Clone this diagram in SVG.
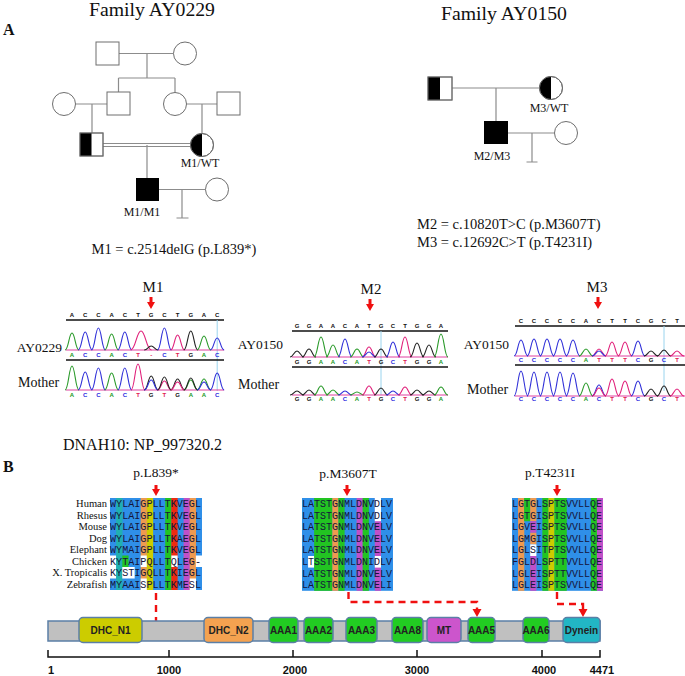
<svg xmlns="http://www.w3.org/2000/svg" width="685" height="676" viewBox="0 0 685 676">
<style>
.sf{font-family:"Liberation Serif","Times New Roman",serif;fill:#111}
.ped{stroke:#8c8c8c;stroke-width:1.2;fill:none}
.ind{fill:#fff;stroke:#6e6e6e;stroke-width:1}
.out{fill:none;stroke:#6e6e6e;stroke-width:1}
.blk{fill:#000}
.a,.c,.g,.t{fill:none;stroke-width:1.1}
.a{stroke:#2a9a2a}.c{stroke:#3030d8}.g{stroke:#222}.t{stroke:#e0207a}
.la{fill:#1a9a1a}.lc{fill:#2828e0}.lg{fill:#111}.lt{fill:#e02050}
.bs{font-family:"Liberation Sans",Arial,sans-serif;font-size:6px;font-weight:bold;text-anchor:middle;fill:#111}
.seq{stroke:#111;stroke-width:1.5}
.pink{stroke:#e040a0;stroke-width:1}
.guide{stroke:#9ad4ee;stroke-width:1}
.red{fill:#f01010}
.dash{stroke:#f01010;stroke-width:2.4;fill:none;stroke-dasharray:7 5}
.aln{font-family:"Liberation Mono","Courier New",monospace;font-size:10px;fill:#15153a}
.sp{font-family:"Liberation Serif","Times New Roman",serif;font-size:10.5px;fill:#111;text-anchor:end}
.B{fill:#2f8fe8}.Y{fill:#20b0b0}.G{fill:#ee9a50}.P{fill:#cccc00}.N{fill:#22c422}.K{fill:#ee2a10}.E{fill:#c050c8}.W{fill:#fff}
.dom{stroke:#5b7fa6;stroke-width:1.5}
.dl{font-family:"Liberation Sans",Arial,sans-serif;font-size:10px;font-weight:bold;fill:#222;text-anchor:middle}
.num{font-family:"Liberation Sans",Arial,sans-serif;font-size:11px;font-weight:bold;fill:#111;text-anchor:middle}
</style>
<defs>
<path id="pk" vector-effect="non-scaling-stroke" d="M-7,0 C-3.5,0 -3,-1 0,-1 C3,-1 3.5,0 7,0"/>
</defs>
<rect width="685" height="676" fill="#fff"/>

<!-- Panel labels and titles -->
<text class="sf" x="3" y="35" font-size="16" font-weight="bold">A</text>
<text class="sf" x="3" y="472" font-size="16" font-weight="bold">B</text>
<text class="sf" x="152" y="16" font-size="18" text-anchor="middle" textLength="126" lengthAdjust="spacingAndGlyphs">Family AY0229</text>
<text class="sf" x="504" y="20" font-size="18" text-anchor="middle" textLength="126" lengthAdjust="spacingAndGlyphs">Family AY0150</text>
<text class="sf" x="174" y="254" font-size="14.5" text-anchor="middle">M1 = c.2514delG (p.L839*)</text>
<text class="sf" x="417" y="229" font-size="14.5">M2 = c.10820T&gt;C (p.M3607T)</text>
<text class="sf" x="417" y="247" font-size="14.5">M3 = c.12692C&gt;T (p.T4231I)</text>

<!-- Pedigree connectors -->
<g id="pedigree-connectors" class="ped">
<path d="M119,53.5 H173.5 M147,53.5 V78 M118.5,78 H175 M118.5,78 V92 M175,78 V92.5"/>
<path d="M75.5,104 H107 M92,104 V133 M186.5,104 H217 M202,104 V133.5"/>
<path d="M103,143.5 H190.5 M103,146.5 H190.5 M147,145 V178"/>
<path d="M159,189.5 H205.5 M182,189.5 V218 M176.5,218 H188.5"/>
<path d="M452,88 H539.5 M496,88 V121"/>
<path d="M508,133 H554.5 M532,133 V162 M526.5,162 H537.5"/>
</g>

<!-- Family AY0229 -->
<g id="ay0229-I1"><rect class="ind" x="96" y="42" width="23" height="23"/></g>
<g id="ay0229-I2"><circle class="ind" cx="185" cy="53.5" r="11.5"/></g>
<g id="ay0229-II1"><circle class="ind" cx="64" cy="104" r="11.5"/></g>
<g id="ay0229-II2"><rect class="ind" x="107" y="92" width="23" height="23"/></g>
<g id="ay0229-II3"><circle class="ind" cx="175" cy="104" r="11.5"/></g>
<g id="ay0229-II4"><rect class="ind" x="217" y="92" width="23" height="23"/></g>
<g id="ay0229-III1"><rect class="ind" x="80" y="133" width="23" height="23"/><rect class="blk" x="80" y="133" width="11.5" height="23"/><rect class="out" x="80" y="133" width="23" height="23"/></g>
<g id="ay0229-III2"><circle class="ind" cx="202" cy="145" r="11.5"/><path class="blk" d="M202,133.5 A11.5,11.5 0 0 0 202,156.5 Z"/><circle class="out" cx="202" cy="145" r="11.5"/>
<text class="sf" x="200" y="167" font-size="12" text-anchor="middle">M1/WT</text></g>
<g id="ay0229-IV1"><rect class="blk" x="136" y="178" width="23" height="23"/>
<text class="sf" x="142" y="216" font-size="12" text-anchor="middle">M1/M1</text></g>
<g id="ay0229-IV2"><circle class="ind" cx="217" cy="189.5" r="11.5"/></g>

<!-- Family AY0150 -->
<g id="ay0150-I1"><rect class="ind" x="428" y="77" width="24" height="23"/><rect class="blk" x="428" y="77" width="12" height="23"/><rect class="out" x="428" y="77" width="24" height="23"/></g>
<g id="ay0150-I2"><circle class="ind" cx="551" cy="88" r="11.5"/><path class="blk" d="M551,76.5 A11.5,11.5 0 0 0 551,99.5 Z"/><circle class="out" cx="551" cy="88" r="11.5"/>
<text class="sf" x="549" y="112" font-size="12" text-anchor="middle">M3/WT</text></g>
<g id="ay0150-II1"><rect class="blk" x="484" y="121" width="24" height="23"/>
<text class="sf" x="492" y="160" font-size="12" text-anchor="middle">M2/M3</text></g>
<g id="ay0150-II2"><circle class="ind" cx="566" cy="133" r="11.5"/></g>

<!-- Chromatogram M1 -->
<g id="chrom-m1">
<text class="sf" x="153" y="292" font-size="15" text-anchor="middle">M1</text>
<path class="red" d="M149.5,297 h3 v5 h2.5 L151,309 L147,302 h2.5 z"/>
<text class="bs" x="72 85.2 98.4 111.6 124.8 138 151.2 164.4 177.6 190.8 204 217.2" y="317">ACCACTGCTGAC</text>
<line class="seq" x1="66" y1="320" x2="224" y2="320"/>
<line class="guide" x1="217.2" y1="320" x2="217.2" y2="391"/>
<text class="sf" x="62" y="352" font-size="13.5" text-anchor="end">AY0229</text>
<line class="pink" x1="66" y1="350" x2="224" y2="350"/>
<use href="#pk" class="a" transform="translate(72,350) scale(1,17)"/>
<use href="#pk" class="c" transform="translate(85.2,350) scale(1,18)"/>
<use href="#pk" class="c" transform="translate(98.4,350) scale(1,22)"/>
<use href="#pk" class="a" transform="translate(111.6,350) scale(1,16)"/>
<use href="#pk" class="c" transform="translate(124.8,350) scale(1,18)"/>
<use href="#pk" class="t" transform="translate(141,350) scale(1.5,19)"/>
<use href="#pk" class="g" transform="translate(151.2,350) scale(1,4)"/>
<use href="#pk" class="c" transform="translate(164.4,350) scale(1,22)"/>
<use href="#pk" class="t" transform="translate(177.6,350) scale(1,15)"/>
<use href="#pk" class="g" transform="translate(190.8,350) scale(1,19)"/>
<use href="#pk" class="a" transform="translate(204,350) scale(1,14)"/>
<use href="#pk" class="c" transform="translate(217.2,350) scale(1,12)"/>
<text class="bs" y="357"><tspan x="72" class="la">A</tspan><tspan x="85.2" class="lc">C</tspan><tspan x="98.4" class="lc">C</tspan><tspan x="111.6" class="la">A</tspan><tspan x="124.8" class="lc">C</tspan><tspan x="138" class="lt">T</tspan><tspan x="151.2" class="lt">-</tspan><tspan x="164.4" class="lc">C</tspan><tspan x="177.6" class="lt">T</tspan><tspan x="190.8" class="lg">G</tspan><tspan x="204" class="la">A</tspan><tspan x="217.2" class="lc">C</tspan></text>
<line class="seq" x1="66" y1="360" x2="224" y2="360"/>
<text class="sf" x="18" y="387" font-size="14">Mother</text>
<line class="pink" x1="66" y1="390" x2="224" y2="390"/>
<use href="#pk" class="a" transform="translate(72,390) scale(1,24)"/>
<use href="#pk" class="c" transform="translate(85.2,390) scale(1,18)"/>
<use href="#pk" class="c" transform="translate(98.4,390) scale(1,22)"/>
<use href="#pk" class="a" transform="translate(111.6,390) scale(1,17)"/>
<use href="#pk" class="c" transform="translate(124.8,390) scale(1,22)"/>
<use href="#pk" class="t" transform="translate(138,390) scale(1,26)"/>
<use href="#pk" class="g" transform="translate(151.2,390) scale(1,14)"/>
<use href="#pk" class="c" transform="translate(151.2,390) scale(1,10)"/>
<use href="#pk" class="t" transform="translate(164.4,390) scale(1,9)"/>
<use href="#pk" class="g" transform="translate(164.4,390) scale(1,13)"/>
<use href="#pk" class="g" transform="translate(177.6,390) scale(1,11)"/>
<use href="#pk" class="t" transform="translate(177.6,390) scale(1,8)"/>
<use href="#pk" class="a" transform="translate(190.8,390) scale(1,10)"/>
<use href="#pk" class="g" transform="translate(190.8,390) scale(1,12)"/>
<use href="#pk" class="a" transform="translate(204,390) scale(1,11)"/>
<use href="#pk" class="c" transform="translate(204,390) scale(1,8)"/>
<use href="#pk" class="c" transform="translate(217.2,390) scale(1,17)"/>
<text class="bs" y="397"><tspan x="72" class="la">A</tspan><tspan x="85.2" class="lc">C</tspan><tspan x="98.4" class="lc">C</tspan><tspan x="111.6" class="la">A</tspan><tspan x="124.8" class="lc">C</tspan><tspan x="138" class="lt">T</tspan><tspan x="151.2" class="lg">G</tspan><tspan x="164.4" class="lt">T</tspan><tspan x="177.6" class="lg">G</tspan><tspan x="190.8" class="la">A</tspan><tspan x="204" class="la">A</tspan><tspan x="217.2" class="lc">C</tspan></text>
</g>

<!-- Chromatogram M2 -->
<g id="chrom-m2">
<text class="sf" x="371" y="294" font-size="15" text-anchor="middle">M2</text>
<path class="red" d="M368.5,299 h3 v5 h2.5 L370,311 L366,304 h2.5 z"/>
<text class="bs" x="297 309 321 333 345 357 369 381 393 405 417 429 441" y="328">GGAACATGCTGGA</text>
<line class="seq" x1="292" y1="331" x2="448" y2="331"/>
<line class="guide" x1="381" y1="331" x2="381" y2="395"/>
<text class="sf" x="283" y="349" font-size="13.5" text-anchor="end">AY0150</text>
<line class="pink" x1="292" y1="357" x2="448" y2="357"/>
<use href="#pk" class="g" transform="translate(297,357) scale(1,6)"/>
<use href="#pk" class="g" transform="translate(309,357) scale(1,8)"/>
<use href="#pk" class="a" transform="translate(321,357) scale(1,20)"/>
<use href="#pk" class="a" transform="translate(333,357) scale(1,12)"/>
<use href="#pk" class="c" transform="translate(345,357) scale(1,18)"/>
<use href="#pk" class="a" transform="translate(357,357) scale(1,8)"/>
<use href="#pk" class="t" transform="translate(369,357) scale(1,10)"/>
<use href="#pk" class="c" transform="translate(369,357) scale(1,5)"/>
<use href="#pk" class="g" transform="translate(381,357) scale(1,8)"/>
<use href="#pk" class="c" transform="translate(393,357) scale(1,15)"/>
<use href="#pk" class="t" transform="translate(405,357) scale(1,20)"/>
<use href="#pk" class="g" transform="translate(417,357) scale(1,14)"/>
<use href="#pk" class="g" transform="translate(429,357) scale(1,12)"/>
<use href="#pk" class="a" transform="translate(441,357) scale(1,23)"/>
<text class="bs" y="364"><tspan x="297" class="lg">G</tspan><tspan x="309" class="lg">G</tspan><tspan x="321" class="la">A</tspan><tspan x="333" class="la">A</tspan><tspan x="345" class="lc">C</tspan><tspan x="357" class="la">A</tspan><tspan x="369" class="lt">T</tspan><tspan x="381" class="lg">G</tspan><tspan x="393" class="lc">C</tspan><tspan x="405" class="lt">T</tspan><tspan x="417" class="lg">G</tspan><tspan x="429" class="lg">G</tspan><tspan x="441" class="la">A</tspan></text>
<line class="seq" x1="292" y1="367" x2="448" y2="367"/>
<text class="sf" x="238" y="389" font-size="14">Mother</text>
<line class="pink" x1="292" y1="395" x2="448" y2="395"/>
<use href="#pk" class="g" transform="translate(297,395) scale(1,4)"/>
<use href="#pk" class="g" transform="translate(309,395) scale(1,5)"/>
<use href="#pk" class="a" transform="translate(321,395) scale(1,9)"/>
<use href="#pk" class="a" transform="translate(333,395) scale(1,5)"/>
<use href="#pk" class="c" transform="translate(345,395) scale(1,4)"/>
<use href="#pk" class="a" transform="translate(357,395) scale(1,3)"/>
<use href="#pk" class="t" transform="translate(369,395) scale(1,9)"/>
<use href="#pk" class="g" transform="translate(381,395) scale(1,7)"/>
<use href="#pk" class="c" transform="translate(393,395) scale(1,4)"/>
<use href="#pk" class="t" transform="translate(405,395) scale(1,8)"/>
<use href="#pk" class="g" transform="translate(417,395) scale(1,5)"/>
<use href="#pk" class="g" transform="translate(429,395) scale(1,4)"/>
<use href="#pk" class="a" transform="translate(441,395) scale(1,8)"/>
<text class="bs" y="401"><tspan x="297" class="lg">G</tspan><tspan x="309" class="lg">G</tspan><tspan x="321" class="la">A</tspan><tspan x="333" class="la">A</tspan><tspan x="345" class="lc">C</tspan><tspan x="357" class="la">A</tspan><tspan x="369" class="lt">T</tspan><tspan x="381" class="lg">G</tspan><tspan x="393" class="lc">C</tspan><tspan x="405" class="lt">T</tspan><tspan x="417" class="lg">G</tspan><tspan x="429" class="lg">G</tspan><tspan x="441" class="la">A</tspan></text>
</g>

<!-- Chromatogram M3 -->
<g id="chrom-m3">
<text class="sf" x="597" y="292" font-size="15" text-anchor="middle">M3</text>
<path class="red" d="M596.5,297 h3 v5 h2.5 L598,309 L594,302 h2.5 z"/>
<text class="bs" x="521 534 547 560 573 586 599 612 625 638 651 664 677" y="323">CCCCCACTTCGCT</text>
<line class="seq" x1="515" y1="326" x2="685" y2="326"/>
<line class="guide" x1="664" y1="326" x2="664" y2="391"/>
<text class="sf" x="509" y="349" font-size="13.5" text-anchor="end">AY0150</text>
<line class="pink" x1="515" y1="356" x2="685" y2="356"/>
<use href="#pk" class="c" transform="translate(521,356) scale(1,16)"/>
<use href="#pk" class="c" transform="translate(534,356) scale(1,17)"/>
<use href="#pk" class="c" transform="translate(547,356) scale(1,17)"/>
<use href="#pk" class="c" transform="translate(560,356) scale(1,17)"/>
<use href="#pk" class="c" transform="translate(573,356) scale(1,16)"/>
<use href="#pk" class="a" transform="translate(586,356) scale(1,7)"/>
<use href="#pk" class="t" transform="translate(599,356) scale(1,7)"/>
<use href="#pk" class="c" transform="translate(599,356) scale(1,5)"/>
<use href="#pk" class="t" transform="translate(612,356) scale(1,14)"/>
<use href="#pk" class="t" transform="translate(625,356) scale(1,14)"/>
<use href="#pk" class="c" transform="translate(638,356) scale(1,15)"/>
<use href="#pk" class="g" transform="translate(651,356) scale(1,5)"/>
<use href="#pk" class="g" transform="translate(664,356) scale(1,6)"/>
<use href="#pk" class="t" transform="translate(677,356) scale(1,5)"/>
<text class="bs" y="362"><tspan x="521" class="lc">C</tspan><tspan x="534" class="lc">C</tspan><tspan x="547" class="lc">C</tspan><tspan x="560" class="lc">C</tspan><tspan x="573" class="lc">C</tspan><tspan x="586" class="la">A</tspan><tspan x="599" class="lt">T</tspan><tspan x="612" class="lt">T</tspan><tspan x="625" class="lt">T</tspan><tspan x="638" class="lc">C</tspan><tspan x="651" class="lg">G</tspan><tspan x="664" class="lc">C</tspan><tspan x="677" class="lt">T</tspan></text>
<line class="seq" x1="515" y1="365" x2="685" y2="365"/>
<text class="sf" x="467" y="394" font-size="14">Mother</text>
<line class="pink" x1="515" y1="396" x2="685" y2="396"/>
<use href="#pk" class="c" transform="translate(521,396) scale(1,25)"/>
<use href="#pk" class="c" transform="translate(534,396) scale(1,24)"/>
<use href="#pk" class="c" transform="translate(547,396) scale(1,24)"/>
<use href="#pk" class="c" transform="translate(560,396) scale(1,24)"/>
<use href="#pk" class="c" transform="translate(573,396) scale(1,23)"/>
<use href="#pk" class="a" transform="translate(586,396) scale(1,13)"/>
<use href="#pk" class="c" transform="translate(599,396) scale(1,11)"/>
<use href="#pk" class="t" transform="translate(599,396) scale(1,8)"/>
<use href="#pk" class="t" transform="translate(612,396) scale(1,17)"/>
<use href="#pk" class="t" transform="translate(625,396) scale(1,15)"/>
<use href="#pk" class="c" transform="translate(638,396) scale(1,15)"/>
<use href="#pk" class="g" transform="translate(651,396) scale(1,7)"/>
<use href="#pk" class="g" transform="translate(664,396) scale(1,10)"/>
<use href="#pk" class="t" transform="translate(677,396) scale(1,7)"/>
<text class="bs" y="401"><tspan x="521" class="lc">C</tspan><tspan x="534" class="lc">C</tspan><tspan x="547" class="lc">C</tspan><tspan x="560" class="lc">C</tspan><tspan x="573" class="lc">C</tspan><tspan x="586" class="la">A</tspan><tspan x="599" class="lc">C</tspan><tspan x="612" class="lt">T</tspan><tspan x="625" class="lt">T</tspan><tspan x="638" class="lc">C</tspan><tspan x="651" class="lg">G</tspan><tspan x="664" class="lc">C</tspan><tspan x="677" class="lt">T</tspan></text>
</g>

<!-- Part B title -->
<text class="sf" x="63" y="450" font-size="16">DNAH10: NP_997320.2</text>

<!-- Alignment 1 -->
<g id="align-L839">
<text class="sf" x="156" y="477" font-size="13.5" text-anchor="middle">p.L839*</text>
<path class="red" d="M154.5,485 h3 v4 h2.5 L156,496 L152,489 h2.5 z"/>
<rect class="B" x="110" y="498" width="92" height="92"/>
<rect class="W" x="110" y="555.5" width="6.3" height="23"/>
<rect class="Y" x="116.13" y="498" width="6.3" height="92"/>
<rect class="N" x="122.27" y="555.5" width="6.3" height="11.5"/>
<rect class="W" x="122.27" y="567" width="12.4" height="11.5"/>
<rect class="G" x="140.67" y="498" width="6.3" height="92"/>
<rect class="W" x="140.67" y="555.5" width="6.3" height="11.5"/>
<rect class="W" x="140.67" y="578.5" width="6.3" height="11.5"/>
<rect class="P" x="146.8" y="498" width="6.3" height="92"/>
<rect class="N" x="165.2" y="498" width="6.3" height="92"/>
<rect class="K" x="171.33" y="498" width="6.3" height="92"/>
<rect class="W" x="171.33" y="555.5" width="6.3" height="11.5"/>
<rect class="E" x="183.6" y="498" width="6.3" height="92"/>
<rect class="G" x="189.73" y="498" width="6.3" height="92"/>
<rect class="W" x="189.73" y="578.5" width="6.3" height="11.5"/>
<rect class="W" x="195.87" y="555.5" width="6.13" height="11.5"/>
<text class="sp" x="107" y="507">Human</text>
<text class="sp" x="107" y="518.5">Rhesus</text>
<text class="sp" x="107" y="530">Mouse</text>
<text class="sp" x="107" y="541.5">Dog</text>
<text class="sp" x="107" y="553">Elephant</text>
<text class="sp" x="107" y="564.5">Chicken</text>
<text class="sp" x="107" y="576">X. Tropicalis</text>
<text class="sp" x="107" y="587.5">Zebrafish</text>
<g class="aln">
<text x="110" y="507" textLength="91" lengthAdjust="spacingAndGlyphs">WYLAIGPLLTKVEGL</text>
<text x="110" y="518.5" textLength="91" lengthAdjust="spacingAndGlyphs">WYLAIGPLLTKVEGL</text>
<text x="110" y="530" textLength="91" lengthAdjust="spacingAndGlyphs">WYLAIGPLLTKVEGL</text>
<text x="110" y="541.5" textLength="91" lengthAdjust="spacingAndGlyphs">WYLAIGPLLTKAEGL</text>
<text x="110" y="553" textLength="91" lengthAdjust="spacingAndGlyphs">WYMAIGPLLTKVEGL</text>
<text x="110" y="564.5" textLength="91" lengthAdjust="spacingAndGlyphs">KYTAIPQLLTQLEG-</text>
<text x="110" y="576" textLength="91" lengthAdjust="spacingAndGlyphs">KYSTIGQLLTKIEGL</text>
<text x="110" y="587.5" textLength="91" lengthAdjust="spacingAndGlyphs">MYAAISPLLTKMESL</text>
</g>
</g>

<!-- Alignment 2 -->
<g id="align-M3607T">
<text class="sf" x="348" y="478" font-size="13.5" text-anchor="middle">p.M3607T</text>
<path class="red" d="M345.5,485 h3 v4 h2.5 L347,496 L343,489 h2.5 z"/>
<rect class="B" x="302" y="498" width="91" height="92.8"/>
<rect class="W" x="308.07" y="556" width="6.2" height="11.6"/>
<rect class="N" x="314.13" y="498" width="18.3" height="92.8"/>
<rect class="G" x="332.33" y="498" width="6.2" height="92.8"/>
<rect class="N" x="338.4" y="498" width="6.2" height="92.8"/>
<rect class="E" x="356.6" y="498" width="6.2" height="92.8"/>
<rect class="N" x="362.67" y="498" width="6.2" height="92.8"/>
<rect class="E" x="374.8" y="498" width="6.2" height="92.8"/>
<rect class="W" x="374.8" y="498" width="6.2" height="23.2"/>
<rect class="W" x="374.8" y="556" width="6.2" height="11.6"/>
<g class="aln">
<text x="302" y="507" textLength="90" lengthAdjust="spacingAndGlyphs">LATSTGNMLDNVDLV</text>
<text x="302" y="518.6" textLength="90" lengthAdjust="spacingAndGlyphs">LATSTGNMLDNVDLV</text>
<text x="302" y="530.2" textLength="90" lengthAdjust="spacingAndGlyphs">LATSTGNMLDNVELV</text>
<text x="302" y="541.8" textLength="90" lengthAdjust="spacingAndGlyphs">LATSTGNMLDNVELV</text>
<text x="302" y="553.4" textLength="90" lengthAdjust="spacingAndGlyphs">LATSTGNMLDNVELV</text>
<text x="302" y="565" textLength="90" lengthAdjust="spacingAndGlyphs">LTSSTGNMLDNIDLV</text>
<text x="302" y="576.6" textLength="90" lengthAdjust="spacingAndGlyphs">LATSTGNMLDNVELV</text>
<text x="302" y="588.2" textLength="90" lengthAdjust="spacingAndGlyphs">LATSTGNMLDNVELI</text>
</g>
</g>

<!-- Alignment 3 -->
<g id="align-T4231I">
<text class="sf" x="550" y="477" font-size="13.5" text-anchor="middle">p.T4231I</text>
<path class="red" d="M555.5,485 h3 v4 h2.5 L557,496 L553,489 h2.5 z"/>
<rect class="B" x="512" y="498" width="91" height="92.8"/>
<rect class="G" x="518.07" y="498" width="6.2" height="92.8"/>
<rect class="N" x="524.13" y="498" width="6.2" height="23.2"/>
<rect class="G" x="530.2" y="498" width="6.2" height="23.2"/>
<rect class="E" x="530.2" y="521.2" width="6.2" height="11.6"/>
<rect class="G" x="530.2" y="532.8" width="6.2" height="11.6"/>
<rect class="W" x="530.2" y="544.4" width="6.2" height="11.6"/>
<rect class="E" x="530.2" y="556" width="6.2" height="34.8"/>
<rect class="N" x="542.33" y="498" width="6.2" height="92.8"/>
<rect class="P" x="548.4" y="498" width="6.2" height="92.8"/>
<rect class="N" x="554.47" y="498" width="12.3" height="92.8"/>
<rect class="N" x="590.87" y="498" width="6.2" height="92.8"/>
<rect class="E" x="596.93" y="498" width="6.07" height="92.8"/>
<g class="aln">
<text x="512" y="507" textLength="90" lengthAdjust="spacingAndGlyphs">LGTGLSPTSVVLLQE</text>
<text x="512" y="518.6" textLength="90" lengthAdjust="spacingAndGlyphs">LGTGISPTSVVLLQE</text>
<text x="512" y="530.2" textLength="90" lengthAdjust="spacingAndGlyphs">LGVEISPTSVVLLQE</text>
<text x="512" y="541.8" textLength="90" lengthAdjust="spacingAndGlyphs">LGMGISPTSVVLLQE</text>
<text x="512" y="553.4" textLength="90" lengthAdjust="spacingAndGlyphs">LGLSITPTSVVLLQE</text>
<text x="512" y="565" textLength="90" lengthAdjust="spacingAndGlyphs">FGLDLSPTTVVLLQE</text>
<text x="512" y="576.6" textLength="90" lengthAdjust="spacingAndGlyphs">LGLEISPTTVVLLQE</text>
<text x="512" y="588.2" textLength="90" lengthAdjust="spacingAndGlyphs">LGLEISPTSVVLLQE</text>
</g>
</g>

<!-- Red dashed connectors -->
<g id="variant-connectors">
<path class="dash" d="M156,593 V621"/>
<path class="dash" d="M348.5,592 V602 H477 V610"/>
<polygon class="red" points="472.5,609 481.5,609 477,617"/>
<path class="dash" d="M557,592 V604 H583 V610"/>
<polygon class="red" points="578.5,609 587.5,609 583,617"/>
</g>

<!-- Domain bar -->
<g id="protein-bar">
<rect class="dom" x="48" y="621" width="552" height="20" fill="#c0c0c0"/>
</g>
<g id="dom-DHC_N1"><rect class="dom" x="79" y="617.5" width="63" height="25" rx="4" fill="#cccc00"/><text class="dl" x="110.5" y="633.5">DHC_N1</text></g>
<g id="dom-DHC_N2"><rect class="dom" x="204" y="617.5" width="49" height="25" rx="4" fill="#f4a250"/><text class="dl" x="228.5" y="634">DHC_N2</text></g>
<g id="dom-AAA1"><rect class="dom" x="269" y="617.5" width="29" height="25" rx="4" fill="#22cc22"/><text class="dl" x="283.5" y="633.5">AAA1</text></g>
<g id="dom-AAA2"><rect class="dom" x="304" y="617.5" width="29" height="25" rx="4" fill="#22cc22"/><text class="dl" x="318.5" y="633.5">AAA2</text></g>
<g id="dom-AAA3"><rect class="dom" x="346" y="617.5" width="31" height="25" rx="4" fill="#22cc22"/><text class="dl" x="361.5" y="633.5">AAA3</text></g>
<g id="dom-AAA8"><rect class="dom" x="392" y="617.5" width="31" height="25" rx="4" fill="#22cc22"/><text class="dl" x="407.5" y="633.5">AAA8</text></g>
<g id="dom-MT"><rect class="dom" x="427" y="617.5" width="34" height="25" rx="4" fill="#cc55cc"/><text class="dl" x="444" y="633.5">MT</text></g>
<g id="dom-AAA5"><rect class="dom" x="468" y="617.5" width="27" height="25" rx="4" fill="#22cc22"/><text class="dl" x="481.5" y="633.5">AAA5</text></g>
<g id="dom-AAA6"><rect class="dom" x="523" y="617.5" width="26" height="25" rx="4" fill="#22cc22"/><text class="dl" x="536" y="633.5">AAA6</text></g>
<g id="dom-Dynein"><rect class="dom" x="563" y="617.5" width="37" height="25" rx="4" fill="#22b6c4"/><text class="dl" x="581.5" y="633.5">Dynein</text></g>

<!-- Scale -->
<g id="scale">
<path d="M48,650 V657 H600 V650 M169,650 V657 M293,650 V657 M417,650 V657 M542,650 V657" stroke="#111" stroke-width="1.5" fill="none"/>
<text class="num" x="51" y="674">1</text>
<text class="num" x="169" y="674">1000</text>
<text class="num" x="295" y="674">2000</text>
<text class="num" x="417" y="674">3000</text>
<text class="num" x="544" y="674">4000</text>
<text class="num" x="602" y="674">4471</text>
</g>
</svg>
